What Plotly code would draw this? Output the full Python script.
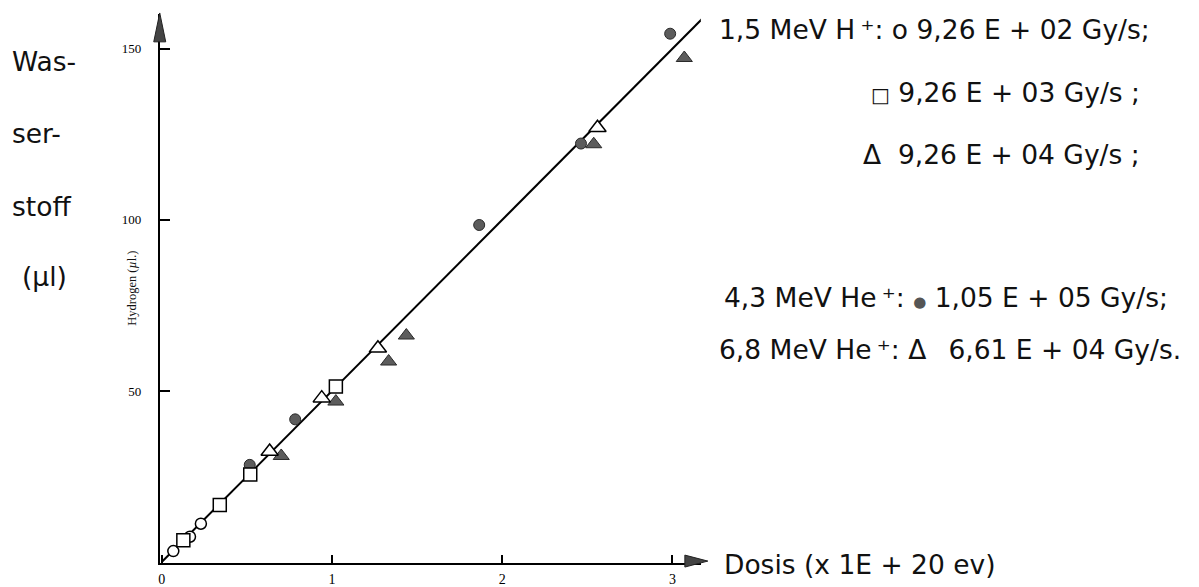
import plotly.graph_objects as go

W, H = 1199, 587

# ---- data (dose in 1E+20 eV, hydrogen in µl) ----
h15_926e2_x = [0.068, 0.166, 0.23]
h15_926e2_y = [3.2, 7.4, 11.2]
h15_926e3_x = [0.127, 0.341, 0.52, 1.023]
h15_926e3_y = [6.4, 16.7, 25.6, 51.3]
h15_926e4_x = [0.634, 0.94, 1.27, 2.56]
h15_926e4_y = [32.3, 47.9, 62.5, 126.9]
he43_x = [0.517, 0.784, 1.865, 2.463, 2.987]
he43_y = [28.4, 41.7, 98.5, 122.3, 154.4]
he68_x = [0.702, 1.023, 1.333, 1.437, 2.538, 3.07]
he68_y = [31.0, 46.9, 58.6, 66.2, 122.1, 147.3]
fit_x = [0.0, 3.2]
fit_y = [0.0, 160.0]

x_ticks = [0, 1, 2, 3]
y_ticks = [50, 100, 150]

def px(x):
    return x / W

def py(y):
    return 1 - y / H

fig = go.Figure()
fig.add_trace(go.Scatter(x=fit_x, y=fit_y, mode="lines", cliponaxis=False,
                         line=dict(color="black", width=2), hoverinfo="skip"))
gray = "#5c5c5c"
fig.add_trace(go.Scatter(x=he43_x, y=he43_y, mode="markers", cliponaxis=False,
                         marker=dict(symbol="circle", size=11, color=gray,
                                     line=dict(color="#2a2a2a", width=1))))
fig.add_trace(go.Scatter(x=he68_x, y=he68_y, mode="markers", cliponaxis=False,
                         marker=dict(symbol="triangle-up", size=14, color=gray,
                                     line=dict(color="#2a2a2a", width=1))))
fig.add_trace(go.Scatter(x=h15_926e2_x, y=h15_926e2_y, mode="markers", cliponaxis=False,
                         marker=dict(symbol="circle", size=11, color="white",
                                     line=dict(color="black", width=1.5))))
fig.add_trace(go.Scatter(x=h15_926e3_x, y=h15_926e3_y, mode="markers", cliponaxis=False,
                         marker=dict(symbol="square", size=13, color="white",
                                     line=dict(color="black", width=1.5))))
fig.add_trace(go.Scatter(x=h15_926e4_x, y=h15_926e4_y, mode="markers", cliponaxis=False,
                         marker=dict(symbol="triangle-up", size=15, color="white",
                                     line=dict(color="black", width=1.5))))

sans = "DejaVu Sans"
fs = 26.5
annots = []

def txt(t, x, y, anchor="left", size=fs, family=sans):
    annots.append(dict(text=t, x=px(x), y=py(y), xref="paper", yref="paper",
                       xanchor=anchor, yanchor="middle", showarrow=False,
                       font=dict(family=family, size=size, color="#111")))

sup = "\u2009\u207a"
sq = "<span style='font-size:20px'>□</span>"
dot = "<span style='font-size:15px;color:#555'>●</span>"
txt("Was-", 8, 62)
txt("ser-", 8, 134)
txt("stoff", 8, 207)
txt("(µl)", 18, 277)
txt("1,5 MeV H" + sup + ": o 9,26 E + 02 Gy/s;", 716, 30)
txt(sq + " 9,26 E + 03 Gy/s ;", 1142, 93, anchor="right")
txt("Δ  9,26 E + 04 Gy/s ;", 1142, 155, anchor="right")
txt("4,3 MeV He" + sup + ": " + dot + " 1,05 E + 05 Gy/s;", 721, 299)
txt("6,8 MeV He" + sup + ": Δ  \u20096,61 E + 04 Gy/s.", 716, 351)
txt("Dosis (x 1E + 20 ev)", 721, 566)

annots.append(dict(text="Hydrogen (<i>µ</i>l.)", x=px(130), y=py(289),
                   xref="paper", yref="paper", textangle=-90, showarrow=False,
                   xanchor="center", yanchor="middle",
                   font=dict(family="Liberation Serif", size=12.5, color="#111")))

shapes = [
    dict(type="path", xref="paper", yref="paper",
         path=f"M {px(152)},{py(42)} L {px(164)},{py(42)} L {px(158)},{py(13)} Z",
         fillcolor="#444", line=dict(color="#222", width=1)),
    dict(type="path", xref="paper", yref="paper",
         path=f"M {px(684)},{py(557)} L {px(684)},{py(569)} L {px(707)},{py(563)} Z",
         fillcolor="#444", line=dict(color="#222", width=1)),
]

x0px, x1px = 158, 700
y0px, y1px = 565, 14
xr = [(x0px - 160) / 170.5, (x1px - 160) / 170.5]
yr = [(565 - y0px) / 3.44 - 0.3, (565 - y1px) / 3.44]

fig.update_layout(
    width=W, height=H, margin=dict(l=0, r=0, t=0, b=0),
    paper_bgcolor="white", plot_bgcolor="white", showlegend=False,
    annotations=annots, shapes=shapes,
    xaxis=dict(domain=[px(x0px), px(x1px)], range=xr, tickvals=x_ticks,
               ticktext=[str(v) for v in x_ticks],
               showgrid=False, zeroline=False, showline=True, linecolor="black",
               linewidth=2, ticks="inside", ticklen=8, tickwidth=1.5,
               tickcolor="black", ticklabelstandoff=2,
               tickfont=dict(family="Liberation Serif", size=14, color="black")),
    yaxis=dict(domain=[py(y0px), py(y1px)], range=yr, tickvals=y_ticks,
               ticktext=[str(v) for v in y_ticks],
               showgrid=False, zeroline=False, showline=True, linecolor="black",
               linewidth=2, ticks="inside", ticklen=10, tickwidth=1.5,
               tickcolor="black", ticklabelstandoff=14,
               tickfont=dict(family="Liberation Serif", size=13, color="black")),
)

fig.write_html("out.html")
